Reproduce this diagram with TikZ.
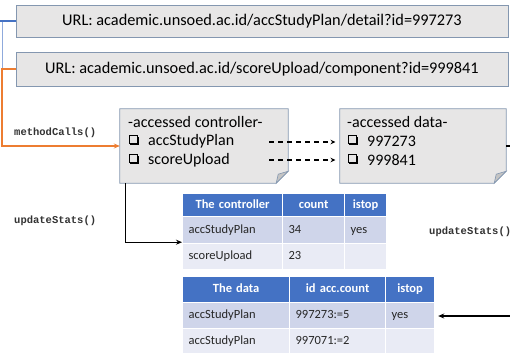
\documentclass[tikz,border=0pt]{standalone}
\usepackage{fontspec}
\setmainfont{Carlito}
\setmonofont{Liberation Mono}
\usetikzlibrary{arrows.meta,shadows}

\definecolor{boxfill}{HTML}{E7E6E6}
\definecolor{boxline}{HTML}{8497B0}
\definecolor{foldfill}{HTML}{C4C4C4}
\definecolor{hdrblue}{HTML}{4472C4}
\definecolor{rowdark}{HTML}{CFD5EA}
\definecolor{rowlight}{HTML}{E9EBF5}
\definecolor{linkblue}{HTML}{4472C4}
\definecolor{linklight}{HTML}{8FAADC}
\definecolor{linkorange}{HTML}{ED7D31}

% one table cell: name, x, y, width, height, fill, alignment, text
\newcommand\tcell[8]{%
  \pgfmathsetmacro\tw{#4-12}%
  \node[tcell, fill=#6, text width=\tw pt, minimum height=#5pt, align=#7] (#1) at (#2,#3) {#8};}

\tikzset{
  urlbox/.style={draw=boxline, fill=boxfill, line width=0.8pt, inner sep=0pt,
    font=\fontsize{16.3}{18}\selectfont},
  notearea/.style={inner sep=0pt},
  noteshape/.style={draw=boxline, fill=boxfill, line width=0.8pt},
  flap/.style={draw=boxline, fill=foldfill, line width=0.6pt},
  notetxt/.style={anchor=west, inner sep=0pt, font=\fontsize{16}{18}\selectfont},
  chkbox/.style={draw=black, line width=0.8pt, fill=boxfill, inner sep=0pt,
    minimum size=8.5pt, anchor=west,
    drop shadow={shadow xshift=1.4pt, shadow yshift=-1.4pt, fill=black, opacity=1}},
  tcell/.style={draw=white, line width=1.2pt, anchor=north west, inner xsep=6pt,
    inner ysep=0pt, text height=9pt, text depth=3pt,
    font=\fontsize{12.5}{14}\selectfont, text=black!85},
  codelbl/.style={anchor=west, inner sep=0pt, font=\ttfamily\bfseries\fontsize{10.5}{12}\selectfont, text=black!80},
  tip/.style={-{Stealth[length=6pt,width=5pt]}},
  dasharrow/.style={line width=1.2pt, dash pattern=on 5pt off 4pt, -{Stealth[length=5pt,width=4.5pt]}},
}

\begin{document}
\begin{tikzpicture}[x=1pt, y=-1pt]
\useasboundingbox (0,0) rectangle (510,353);

% URL boxes
\node[urlbox, minimum width=492pt, minimum height=32pt] (url1) at (262,21) {URL: academic.unsoed.ac.id/accStudyPlan/detail?id=997273};
\node[urlbox, minimum width=492pt, minimum height=34pt] (url2) at (262,69) {URL: academic.unsoed.ac.id/scoreUpload/component?id=999841};

% note areas
\node[notearea, minimum width=168pt, minimum height=74pt] (ctrl) at (204,146) {};
\node[notearea, minimum width=166pt, minimum height=74pt] (dat) at (423,146) {};

\foreach \n in {ctrl, dat} {
  \draw[noteshape] (\n.north west) -- (\n.north east) -- ([yshift=12pt]\n.south east)
    -- ([xshift=-12pt]\n.south east) -- (\n.south west) -- cycle;
  \draw[flap] ([yshift=12pt]\n.south east) -- ([xshift=-12pt]\n.south east)
    .. controls ([xshift=-11pt,yshift=5pt]\n.south east) .. ([xshift=-10pt,yshift=9pt]\n.south east)
    .. controls ([xshift=-5pt,yshift=10pt]\n.south east) .. cycle;
}

% controller note text
\node[notetxt] (ctitle) at (128,122) {-accessed controller-};
\node[chkbox] (cchk1) at (128.5,139.5) {};
\node[notetxt] (citem1) at (148,141) {accStudyPlan};
\node[chkbox] (cchk2) at (128.5,158.5) {};
\node[notetxt] (citem2) at (148,160) {scoreUpload};

% data note text
\node[notetxt] (dtitle) at (347,122) {-accessed data-};
\node[chkbox] (dchk1) at (347.5,139.5) {};
\node[notetxt] (ditem1) at (367,141) {997273};
\node[chkbox] (dchk2) at (347.5,158.5) {};
\node[notetxt] (ditem2) at (367,160) {999841};

% method labels
\node[codelbl] (mc) at (14,133) {methodCalls()};
\node[codelbl] (us1) at (14,221) {updateStats()};
\node[codelbl] (us2) at (429,232) {updateStats()};

% controller table
\tcell{t1h1}{182}{193}{100}{23}{hdrblue}{center}{\bfseries\color{white}The controller}
\tcell{t1h2}{282}{193}{62}{23}{hdrblue}{center}{\bfseries\color{white}count}
\tcell{t1h3}{344}{193}{42}{23}{hdrblue}{center}{\bfseries\color{white}istop}
\tcell{t1a1}{182}{216}{100}{27}{rowdark}{left}{accStudyPlan}
\tcell{t1a2}{282}{216}{62}{27}{rowdark}{left}{34}
\tcell{t1a3}{344}{216}{42}{27}{rowdark}{left}{yes}
\tcell{t1b1}{182}{243}{100}{26}{rowlight}{left}{scoreUpload}
\tcell{t1b2}{282}{243}{62}{26}{rowlight}{left}{23}
\tcell{t1b3}{344}{243}{42}{26}{rowlight}{left}{}

% data table
\tcell{t2h1}{182}{276}{107}{26}{hdrblue}{center}{\bfseries\color{white}The data}
\tcell{t2h2}{289}{276}{96}{26}{hdrblue}{center}{\bfseries\color{white}id acc.count}
\tcell{t2h3}{385}{276}{49}{26}{hdrblue}{center}{\bfseries\color{white}istop}
\tcell{t2a1}{182}{302}{107}{26}{rowdark}{left}{accStudyPlan}
\tcell{t2a2}{289}{302}{96}{26}{rowdark}{left}{997273:=5}
\tcell{t2a3}{385}{302}{49}{26}{rowdark}{left}{yes}
\tcell{t2b1}{182}{328}{107}{25}{rowlight}{left}{accStudyPlan}
\tcell{t2b2}{289}{328}{96}{25}{rowlight}{left}{997071:=2}
\tcell{t2b3}{385}{328}{49}{25}{rowlight}{left}{}

% links from the URLs
\coordinate (bl) at (0,21);
\coordinate (vl) at (2,146);
\draw[linklight, line width=1pt] (2,21) -- (2,69);
\draw[linkblue, line width=1.8pt] (bl) -- (url1.west);
\draw[linkorange, line width=1.8pt, tip] (url2.west) -| (vl) -- (ctrl.west);

% dashed links controller -> data
\coordinate (ds1) at (269,142);
\coordinate (ds2) at (269,160);
\draw[dasharrow, shorten >=12pt] (ds1) -- (dchk1.west |- ds1);
\draw[dasharrow, shorten >=12pt] (ds2) -- (dchk2.west |- ds2);

% update links
\draw[line width=1.3pt, tip] ([xshift=6pt]ctrl.south west) |- ([yshift=2pt]t1a1.south west);
\coordinate (rin) at (510,316);
\draw[line width=1.3pt, tip] (rin) -- ([xshift=3pt]t2a3.east |- rin);
\coordinate (rout) at (510,146);
\draw[line width=1.3pt] (dat.east) -- (rout);
\end{tikzpicture}
\end{document}
